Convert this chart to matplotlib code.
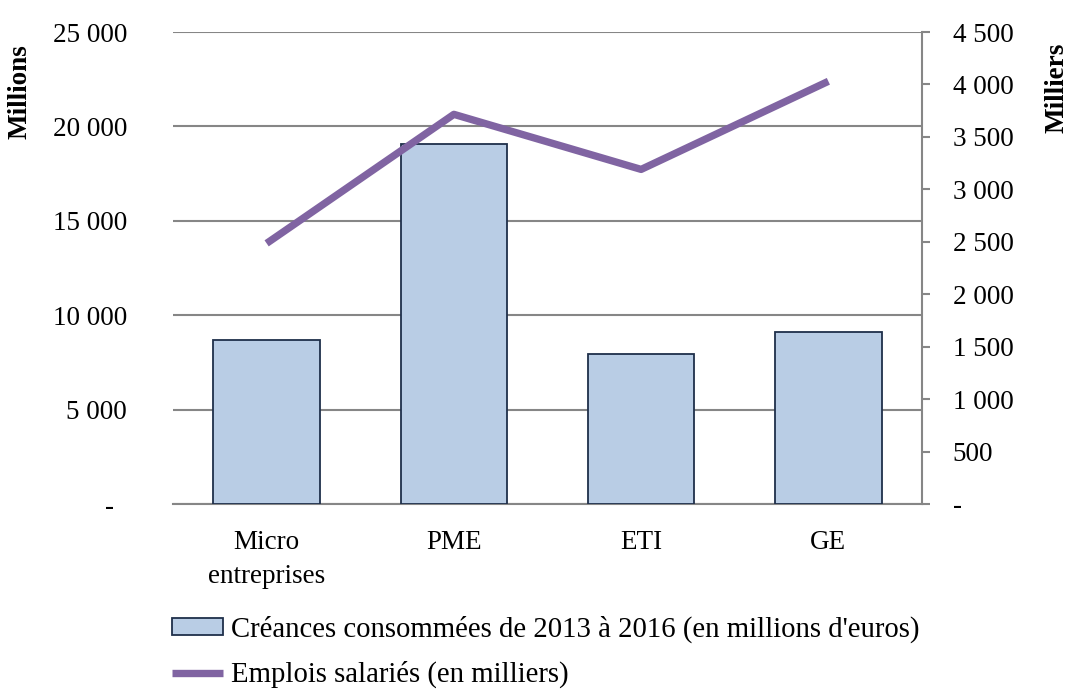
import matplotlib
matplotlib.use("Agg")
import matplotlib.pyplot as plt
from matplotlib.ticker import FixedLocator, FuncFormatter

categories = ["Micro\nentreprises", "PME", "ETI", "GE"]
creances = [8700, 19070, 7950, 9100]
emplois = [2485, 3715, 3190, 4030]
left_ticks = [0, 5000, 10000, 15000, 20000, 25000]
right_ticks = [0, 500, 1000, 1500, 2000, 2500, 3000, 3500, 4000, 4500]
bar_label = "Créances consommées de 2013 à 2016 (en millions d'euros)"
line_label = "Emplois salariés (en milliers)"

plt.rcParams['font.family'] = ['Liberation Serif', 'DejaVu Serif']
FS = 19.5
LFS = 20.7

fig = plt.figure(figsize=(10.69, 6.91), dpi=100)
ax = fig.add_axes([173/1069, 1-504/691, (922-173)/1069, (504-32)/691])
ax2 = ax.twinx()

x = list(range(len(categories)))
bars = ax.bar(x, creances, width=0.57, color="#B9CDE5", edgecolor="#1F2F4A",
              linewidth=1.3, zorder=3, label=bar_label)
ax.set_xlim(-0.5, 3.5)
ax.set_ylim(0, 25000)
ax.yaxis.set_major_locator(FixedLocator(left_ticks))

def fmt(v, pos=None, zero="-"):
    if v == 0:
        return zero
    return f"{int(v):,}".replace(",", " ")

ax.yaxis.set_major_formatter(FuncFormatter(lambda v, p: fmt(v, p, "-  ")))
ax.grid(axis="y", color="#868686", linewidth=1.5, zorder=0)
ax.set_axisbelow(True)
for s in ["top", "left", "right"]:
    ax.spines[s].set_visible(False)
ax.spines["bottom"].set_color("#868686")
ax.spines["bottom"].set_linewidth(1.5)
ax.tick_params(axis="y", length=0, pad=33, labelsize=FS)
ax.tick_params(axis="x", length=0, pad=19, labelsize=FS)
ax.set_xticks(x)
ax.set_xticklabels(categories, linespacing=1.45)
ax.set_ylabel("Millions", fontsize=FS, fontweight="bold")
ax.yaxis.set_label_coords(-0.187, 0.873)

line, = ax2.plot(x, emplois, color="#8064A2", linewidth=5.3, solid_capstyle="butt",
                 zorder=4, label=line_label)
ax2.set_ylim(0, 4500)
ax2.yaxis.set_major_locator(FixedLocator(right_ticks))
ax2.yaxis.set_major_formatter(FuncFormatter(lambda v, p: fmt(v, p, "-")))
for s in ["top", "left", "bottom"]:
    ax2.spines[s].set_visible(False)
ax2.spines["right"].set_color("#868686")
ax2.spines["right"].set_linewidth(1.5)
ax2.tick_params(axis="y", length=6, width=1.5, color="#868686", pad=16, labelsize=FS)
ax2.set_ylabel("Milliers", fontsize=FS, fontweight="bold", rotation=90)
ax2.yaxis.set_label_coords(1.163, 0.881)

leg = fig.legend([bars, line], [bar_label, line_label], loc="upper left",
                 bbox_to_anchor=(172/1069, 1-616/691), frameon=False, fontsize=LFS,
                 handlelength=1.78, handleheight=0.55, handletextpad=0.28,
                 labelspacing=0.62, borderaxespad=0, borderpad=0)

fig.savefig("out.png", dpi=100)
